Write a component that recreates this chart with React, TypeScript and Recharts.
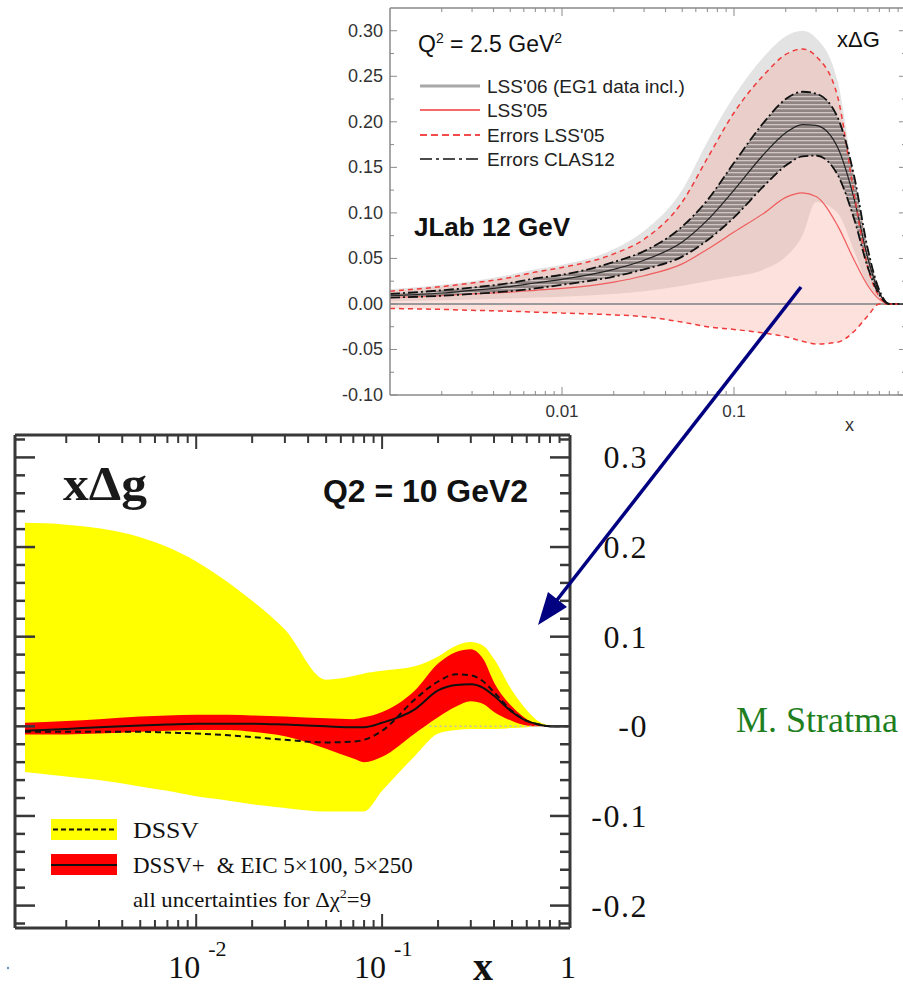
import React from 'react';
import { ComposedChart, Area, Line, XAxis, YAxis, ReferenceLine } from 'recharts';

const SANS = '"Liberation Sans", Arial, Helvetica, sans-serif';
const SERIF = '"Liberation Serif", "Times New Roman", serif';

// ---------- upper panel: JLab 12 GeV, Q^2 = 2.5 GeV^2 ----------
const jlabX = [0.001, 0.002, 0.003, 0.005, 0.007, 0.01, 0.02, 0.03, 0.05, 0.07, 0.1, 0.15, 0.2, 0.25, 0.3, 0.4, 0.5, 0.6, 0.7, 0.8, 1];
const lss06Hi = [0.016, 0.021, 0.025, 0.032, 0.038, 0.043, 0.06, 0.08, 0.125, 0.178, 0.228, 0.272, 0.294, 0.3, 0.292, 0.245, 0.135, 0.048, 0.012, 0, 0];
const lss06Lo = [0.003, 0.004, 0.005, 0.006, 0.007, 0.008, 0.011, 0.014, 0.02, 0.025, 0.03, 0.038, 0.052, 0.075, 0.112, 0.1, 0.058, 0.02, 0.004, 0, 0];
const lss05Hi = [0.014, 0.019, 0.023, 0.029, 0.035, 0.04, 0.055, 0.071, 0.112, 0.16, 0.21, 0.252, 0.274, 0.28, 0.272, 0.228, 0.12, 0.04, 0.008, 0, 0];
const lss05Lo = [-0.005, -0.006, -0.007, -0.008, -0.009, -0.01, -0.012, -0.014, -0.02, -0.025, -0.028, -0.032, -0.036, -0.041, -0.044, -0.042, -0.03, -0.013, 0, 0, 0];
const lss05 = [0.007, 0.009, 0.011, 0.013, 0.015, 0.017, 0.024, 0.031, 0.044, 0.06, 0.079, 0.1, 0.117, 0.122, 0.118, 0.086, 0.048, 0.02, 0.005, 0, 0];
const lss06 = [0.009, 0.012, 0.015, 0.019, 0.023, 0.027, 0.038, 0.048, 0.068, 0.092, 0.125, 0.165, 0.188, 0.197, 0.196, 0.172, 0.115, 0.05, 0.012, 0, 0];
const clasHi = [0.011, 0.015, 0.018, 0.023, 0.028, 0.032, 0.046, 0.058, 0.085, 0.114, 0.155, 0.2, 0.225, 0.233, 0.231, 0.205, 0.14, 0.06, 0.015, 0, 0];
const clasLo = [0.007, 0.009, 0.011, 0.014, 0.017, 0.021, 0.03, 0.038, 0.052, 0.07, 0.095, 0.13, 0.152, 0.162, 0.163, 0.142, 0.093, 0.04, 0.01, 0, 0];

const jlabXTicks = [0.002, 0.003, 0.004, 0.005, 0.006, 0.007, 0.008, 0.009, 0.01, 0.02, 0.03, 0.04, 0.05, 0.06, 0.07, 0.08, 0.09, 0.1, 0.2, 0.3, 0.4, 0.5, 0.6, 0.7, 0.8, 0.9];
const jlabXLabelled = [0.01, 0.1];
const jlabXLabels = ['0.01', '0.1'];
const jlabYTicks = [-0.1, -0.075, -0.05, -0.025, 0, 0.025, 0.05, 0.075, 0.1, 0.125, 0.15, 0.175, 0.2, 0.225, 0.25, 0.275, 0.3];
const jlabYLabelled = [-0.1, -0.05, 0, 0.05, 0.1, 0.15, 0.2, 0.25, 0.3];
const jlabYLabels = ['-0.10', '-0.05', '0.00', '0.05', '0.10', '0.15', '0.20', '0.25', '0.30'];

const jlabLegend = ["LSS'06 (EG1 data incl.)", "LSS'05", "Errors LSS'05", 'Errors CLAS12'];

// ---------- lower panel: DSSV / EIC, Q2 = 10 GeV2 ----------
const dssvX = [0.0012, 0.002, 0.003, 0.005, 0.007, 0.01, 0.015, 0.02, 0.03, 0.05, 0.07, 0.08, 0.1, 0.15, 0.2, 0.25, 0.3, 0.35, 0.4, 0.5, 0.6, 0.7, 0.8, 1];
const dssvHi = [0.227, 0.225, 0.221, 0.211, 0.2, 0.184, 0.16, 0.14, 0.108, 0.052, 0.056, 0.059, 0.062, 0.067, 0.078, 0.09, 0.094, 0.09, 0.075, 0.04, 0.018, 0.005, 0.001, 0];
const dssvLo = [-0.051, -0.056, -0.06, -0.067, -0.072, -0.078, -0.083, -0.087, -0.091, -0.095, -0.095, -0.095, -0.072, -0.033, -0.008, -0.004, -0.003, -0.003, -0.003, -0.002, -0.001, 0, 0, 0];
const eicHi = [0.004, 0.006, 0.008, 0.011, 0.012, 0.013, 0.013, 0.012, 0.011, 0.009, 0.008, 0.01, 0.016, 0.04, 0.07, 0.083, 0.086, 0.075, 0.049, 0.022, 0.008, 0.002, 0, 0];
const eicLo = [-0.009, -0.009, -0.008, -0.006, -0.005, -0.004, -0.004, -0.006, -0.011, -0.025, -0.036, -0.04, -0.034, -0.008, 0.01, 0.022, 0.028, 0.025, 0.016, 0.006, 0.001, 0, 0, 0];
const eicCentral = [-0.005, -0.003, -0.001, 0.001, 0.002, 0.003, 0.003, 0.003, 0.002, 0, -0.001, -0.001, 0.004, 0.019, 0.04, 0.046, 0.047, 0.043, 0.034, 0.016, 0.006, 0.002, 0, 0];
const dssvCentral = [-0.006, -0.006, -0.006, -0.006, -0.007, -0.008, -0.01, -0.012, -0.015, -0.018, -0.017, -0.015, -0.005, 0.03, 0.05, 0.058, 0.057, 0.05, 0.038, 0.017, 0.006, 0.002, 0, 0];
const zeroFrom = 0.18;

const dssvXTicks = [0.002, 0.003, 0.004, 0.005, 0.006, 0.007, 0.008, 0.009, 0.01, 0.02, 0.03, 0.04, 0.05, 0.06, 0.07, 0.08, 0.09, 0.1, 0.2, 0.3, 0.4, 0.5, 0.6, 0.7, 0.8, 0.9, 1];
const dssvXLabelled = [0.01, 0.1, 1];
const dssvXLabels = [['10', '-2'], ['10', '-1'], ['1', '']];
const dssvYTicks = [-0.22, -0.2, -0.18, -0.16, -0.14, -0.12, -0.1, -0.08, -0.06, -0.04, -0.02, 0, 0.02, 0.04, 0.06, 0.08, 0.1, 0.12, 0.14, 0.16, 0.18, 0.2, 0.22, 0.24, 0.26, 0.28, 0.3, 0.32];
const dssvYLabelled = [-0.2, -0.1, 0, 0.1, 0.2, 0.3];
const dssvYLabels = ['-0.2', '-0.1', '-0', '0.1', '0.2', '0.3'];

const jlabRows = jlabX.map((x, i) => ({
  x,
  lss06Band: [lss06Lo[i], lss06Hi[i]],
  lss05Band: [lss05Lo[i], lss05Hi[i]],
  clasBand: [clasLo[i], clasHi[i]],
  lss05: lss05[i],
  lss06: lss06[i],
  lss05Hi: lss05Hi[i],
  lss05Lo: lss05Lo[i],
  clasHi: clasHi[i],
  clasLo: clasLo[i],
}));

const dssvRows = dssvX.map((x, i) => ({
  x,
  dssvBand: [dssvLo[i], dssvHi[i]],
  eicBand: [eicLo[i], eicHi[i]],
  dssv: dssvCentral[i],
  eic: eicCentral[i],
}));

const GREY = '#8a8a8a';
const FRAME = '#383838';

// inward tick marks for the upper panel
const jlabBottomTick = (p: any) => {
  const { x, y, payload } = p;
  const i = jlabXLabelled.indexOf(payload.value);
  return (
    <g>
      <line x1={x} x2={x} y1={y} y2={y - (i >= 0 ? 8 : 4)} stroke={GREY} />
      {i >= 0 && (
        <text x={x} y={y + 22} textAnchor="middle" fontSize={17} fill="#333" fontFamily={SANS}>
          {jlabXLabels[i]}
        </text>
      )}
    </g>
  );
};
const jlabTopTick = (p: any) => {
  const { x, y, payload } = p;
  const major = jlabXLabelled.includes(payload.value);
  return <line x1={x} x2={x} y1={y} y2={y + (major ? 8 : 4)} stroke={GREY} />;
};
const jlabLeftTick = (p: any) => {
  const { x, y, payload } = p;
  const i = jlabYLabelled.indexOf(payload.value);
  return (
    <g>
      <line x1={x} x2={x + (i >= 0 ? 7 : 4)} y1={y} y2={y} stroke={GREY} />
      {i >= 0 && (
        <text x={x - 7} y={y + 6} textAnchor="end" fontSize={18} fill="#333" fontFamily={SANS}>
          {jlabYLabels[i]}
        </text>
      )}
    </g>
  );
};
const jlabRightTick = (p: any) => {
  const { x, y, payload } = p;
  const major = jlabYLabelled.includes(payload.value);
  return <line x1={x} x2={x - (major ? 7 : 4)} y1={y} y2={y} stroke={GREY} />;
};

// inward tick marks for the lower panel
const dssvBottomTick = (p: any) => {
  const { x, y, payload } = p;
  const i = dssvXLabelled.indexOf(payload.value);
  const major = i >= 0 && payload.value !== 1;
  return (
    <g>
      {payload.value !== 1 && (
        <line x1={x} x2={x} y1={y} y2={y - (major ? 14 : 8)} stroke={FRAME} strokeWidth={2} />
      )}
      {i >= 0 && (
        <text
          x={payload.value === 1 ? x : x - 28}
          y={y + 50}
          textAnchor={payload.value === 1 ? 'middle' : 'start'}
          fontSize={32}
          fill="#111"
          fontFamily={SERIF}
        >
          {dssvXLabels[i][0]}
          {dssvXLabels[i][1] && (
            <tspan dx={8} dy={-22} fontSize={22}>
              {dssvXLabels[i][1]}
            </tspan>
          )}
        </text>
      )}
    </g>
  );
};
const dssvTopTick = (p: any) => {
  const { x, y, payload } = p;
  if (payload.value === 1) return <g />;
  const major = dssvXLabelled.includes(payload.value);
  return <line x1={x} x2={x} y1={y} y2={y + (major ? 14 : 8)} stroke={FRAME} strokeWidth={2} />;
};
const dssvLeftTick = (p: any) => {
  const { x, y, payload } = p;
  const major = dssvYLabelled.includes(payload.value);
  return <line x1={x} x2={x + (major ? 20 : 10)} y1={y} y2={y} stroke={FRAME} strokeWidth={2.5} />;
};
const dssvRightTick = (p: any) => {
  const { x, y, payload } = p;
  const i = dssvYLabelled.indexOf(payload.value);
  return (
    <g>
      <line x1={x} x2={x - (i >= 0 ? 20 : 10)} y1={y} y2={y} stroke={FRAME} strokeWidth={2.5} />
      {i >= 0 && (
        <text x={x + 78} y={y + 11} textAnchor="end" fontSize={32} letterSpacing={1.5} fill="#111" fontFamily={SERIF}>
          {dssvYLabels[i]}
        </text>
      )}
    </g>
  );
};

function JlabPanel() {
  return (
    <div style={{ position: 'absolute', left: 0, top: 0 }}>
      <ComposedChart width={940} height={440} data={jlabRows} margin={{ top: 7, right: 30, bottom: 5, left: 330 }}>
        <XAxis
          dataKey="x"
          type="number"
          scale="log"
          domain={[0.001, 1]}
          allowDataOverflow
          ticks={jlabXTicks}
          interval={0}
          height={40}
          tickSize={0}
          tickMargin={0}
          tickLine={false}
          tick={jlabBottomTick}
          axisLine={{ stroke: GREY, strokeWidth: 1.5 }}
        />
        <XAxis
          xAxisId="top"
          orientation="top"
          dataKey="x"
          type="number"
          scale="log"
          domain={[0.001, 1]}
          allowDataOverflow
          ticks={jlabXTicks}
          interval={0}
          height={1}
          tickSize={0}
          tickMargin={0}
          tickLine={false}
          tick={jlabTopTick}
          axisLine={{ stroke: GREY, strokeWidth: 1.5 }}
        />
        <YAxis
          type="number"
          domain={[-0.1, 0.325]}
          allowDataOverflow
          ticks={jlabYTicks}
          interval={0}
          width={60}
          tickSize={0}
          tickMargin={0}
          tickLine={false}
          tick={jlabLeftTick}
          axisLine={{ stroke: GREY, strokeWidth: 1.5 }}
        />
        <YAxis
          yAxisId="right"
          orientation="right"
          type="number"
          domain={[-0.1, 0.325]}
          allowDataOverflow
          ticks={jlabYTicks}
          interval={0}
          width={4}
          tickSize={0}
          tickMargin={0}
          tickLine={false}
          tick={jlabRightTick}
          axisLine={{ stroke: GREY, strokeWidth: 1.5 }}
        />
        <Area dataKey="lss06Band" type="monotone" stroke="none" fill="#e3e3e3" fillOpacity={1} isAnimationActive={false} />
        <Area dataKey="lss05Band" type="monotone" stroke="none" fill="#f5a597" fillOpacity={0.33} isAnimationActive={false} />
        <Area dataKey="clasBand" type="monotone" stroke="none" fill="url(#clasHatch)" fillOpacity={1} isAnimationActive={false} />
        <ReferenceLine y={0} stroke="#9a9a9a" strokeWidth={2} />
        <Line dataKey="lss05" type="monotone" stroke="#f05c5c" strokeWidth={1.2} dot={false} isAnimationActive={false} />
        <Line dataKey="lss06" type="monotone" stroke="#222" strokeWidth={1.2} dot={false} isAnimationActive={false} />
        <Line dataKey="lss05Hi" type="monotone" stroke="#f03a3a" strokeWidth={1.5} strokeDasharray="5 4" dot={false} isAnimationActive={false} />
        <Line dataKey="lss05Lo" type="monotone" stroke="#f03a3a" strokeWidth={1.5} strokeDasharray="5 4" dot={false} isAnimationActive={false} />
        <Line dataKey="clasHi" type="monotone" stroke="#111" strokeWidth={1.8} strokeDasharray="10 3 2 3" dot={false} isAnimationActive={false} />
        <Line dataKey="clasLo" type="monotone" stroke="#111" strokeWidth={1.8} strokeDasharray="10 3 2 3" dot={false} isAnimationActive={false} />
      </ComposedChart>
    </div>
  );
}

function DssvPanel() {
  return (
    <div style={{ position: 'absolute', left: 0, top: 420 }}>
      <ComposedChart width={700} height={571} data={dssvRows} margin={{ top: 10, right: 40, bottom: 13, left: 10 }}>
        <XAxis
          dataKey="x"
          type="number"
          scale="log"
          domain={[0.00106, 1.025]}
          allowDataOverflow
          ticks={dssvXTicks}
          interval={0}
          height={50}
          tickSize={0}
          tickMargin={0}
          tickLine={false}
          tick={dssvBottomTick}
          axisLine={{ stroke: FRAME, strokeWidth: 3 }}
        />
        <XAxis
          xAxisId="top"
          orientation="top"
          dataKey="x"
          type="number"
          scale="log"
          domain={[0.00106, 1.025]}
          allowDataOverflow
          ticks={dssvXTicks}
          interval={0}
          height={5}
          tickSize={0}
          tickMargin={0}
          tickLine={false}
          tick={dssvTopTick}
          axisLine={{ stroke: FRAME, strokeWidth: 3 }}
        />
        <YAxis
          type="number"
          domain={[-0.225, 0.325]}
          allowDataOverflow
          ticks={dssvYTicks}
          interval={0}
          width={5}
          tickSize={0}
          tickMargin={0}
          tickLine={false}
          tick={dssvLeftTick}
          axisLine={{ stroke: FRAME, strokeWidth: 3 }}
        />
        <YAxis
          yAxisId="right"
          orientation="right"
          type="number"
          domain={[-0.225, 0.325]}
          allowDataOverflow
          ticks={dssvYTicks}
          interval={0}
          width={90}
          tickSize={0}
          tickMargin={0}
          tickLine={false}
          tick={dssvRightTick}
          axisLine={{ stroke: FRAME, strokeWidth: 3 }}
        />
        <Area dataKey="dssvBand" type="monotone" stroke="none" fill="#ffff00" fillOpacity={1} isAnimationActive={false} />
        <Area dataKey="eicBand" type="monotone" stroke="none" fill="#ff0000" fillOpacity={1} isAnimationActive={false} />
        <ReferenceLine
          segment={[{ x: zeroFrom, y: 0 }, { x: 1, y: 0 }]}
          stroke="#bbbbbb"
          strokeWidth={1.5}
          strokeDasharray="2 3"
        />
        <Line dataKey="dssv" type="monotone" stroke="#111" strokeWidth={2} strokeDasharray="6 4" dot={false} isAnimationActive={false} />
        <Line dataKey="eic" type="monotone" stroke="#111" strokeWidth={2} dot={false} isAnimationActive={false} />
      </ComposedChart>
    </div>
  );
}

function Overlay() {
  const legendY = [86, 110, 135, 159];
  return (
    <svg width={903} height={991} style={{ position: 'absolute', left: 0, top: 0, pointerEvents: 'none' }}>
      {/* upper panel labels */}
      <text x={418} y={52} fontSize={23} fontFamily={SANS} fill="#111">
        Q<tspan dy={-9} fontSize={14}>2</tspan>
        <tspan dy={9}> = 2.5 GeV</tspan>
        <tspan dy={-9} fontSize={14}>2</tspan>
      </text>
      <text x={837} y={47} fontSize={22} fontFamily={SANS} fill="#111">xΔG</text>
      <line x1={420} x2={480} y1={legendY[0]} y2={legendY[0]} stroke="#a8a8a8" strokeWidth={3} />
      <line x1={420} x2={480} y1={legendY[1]} y2={legendY[1]} stroke="#f56b6b" strokeWidth={2} />
      <line x1={420} x2={480} y1={legendY[2]} y2={legendY[2]} stroke="#f24b4b" strokeWidth={2} strokeDasharray="7 4" />
      <line x1={420} x2={480} y1={legendY[3]} y2={legendY[3]} stroke="#111" strokeWidth={1.5} strokeDasharray="12 4 3 4" />
      {jlabLegend.map((t, i) => (
        <text key={t} x={487} y={legendY[i] + 7} fontSize={19} fontFamily={SANS} fill="#222">
          {t}
        </text>
      ))}
      <text x={414} y={236} fontSize={26} fontWeight="bold" fontFamily={SANS} fill="#111">JLab 12 GeV</text>
      <text x={845} y={431} fontSize={18} fontFamily={SANS} fill="#333">x</text>

      {/* lower panel labels */}
      <text x={63} y={500} fontSize={48} fontWeight="bold" fontFamily={SERIF} fill="#1a1a1a" textLength={84} lengthAdjust="spacingAndGlyphs">
        xΔg
      </text>
      <text x={323} y={502} fontSize={32} fontWeight="bold" fontFamily={SANS} fill="#111" textLength={205} lengthAdjust="spacingAndGlyphs">
        Q2 = 10 GeV2
      </text>
      <rect x={51} y={819} width={66} height={21} fill="#ffff00" />
      <line x1={53} x2={117} y1={829.5} y2={829.5} stroke="#111" strokeWidth={2} strokeDasharray="5 3" />
      <rect x={51} y={854} width={66} height={21} fill="#ff0000" />
      <line x1={51} x2={117} y1={865} y2={865} stroke="#111" strokeWidth={2} />
      <text x={133} y={838} fontSize={24} fontFamily={SERIF} fill="#111" textLength={66} lengthAdjust="spacingAndGlyphs">DSSV</text>
      <text x={133} y={873} fontSize={23} fontFamily={SERIF} fill="#111">
        DSSV+<tspan dx={12}>&amp; EIC 5×100, 5×250</tspan>
      </text>
      <text x={133} y={907} fontSize={21} fontFamily={SERIF} fill="#111" textLength={238} lengthAdjust="spacingAndGlyphs">
        all uncertainties for Δχ<tspan dy={-9} fontSize={13}>2</tspan>
        <tspan dy={9}>=9</tspan>
      </text>
      <text x={473} y={980} fontSize={40} fontWeight="bold" fontFamily={SERIF} fill="#111">x</text>
      <text x={736} y={732} fontSize={36} fontFamily={SERIF} fill="#1f7f1f">M. Stratma</text>
      <circle cx={8} cy={968} r={1.2} fill="#7090d0" />

      {/* arrow */}
      <line x1={801} y1={287} x2={557} y2={600} stroke="#000080" strokeWidth={3.5} />
      <polygon points="538,625 567,607 548,592" fill="#000080" />
    </svg>
  );
}

export default function App() {
  return (
    <div style={{ position: 'absolute', left: 0, top: 0, width: 903, height: 991, overflow: 'hidden', background: '#fff' }}>
      <svg width={0} height={0} style={{ position: 'absolute' }}>
        <defs>
          <pattern id="clasHatch" patternUnits="userSpaceOnUse" width={6} height={4}>
            <rect x={0} y={0} width={6} height={4} fill="#8f8482" />
            <rect x={0} y={0} width={6} height={1.3} fill="#d2c6c4" />
          </pattern>
        </defs>
      </svg>
      <JlabPanel />
      <DssvPanel />
      <Overlay />
    </div>
  );
}
